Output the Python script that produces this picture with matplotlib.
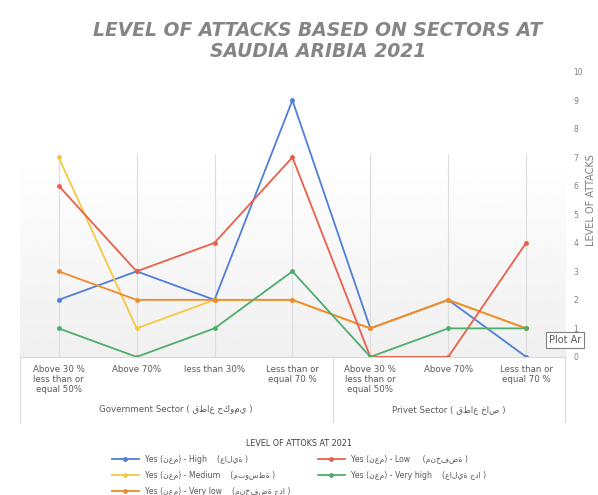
import matplotlib.pyplot as plt
import numpy as np

categories = ["Above 30 %\nless than or\nequal 50%", "Above 70%", "less than 30%",
              "Less than or\nequal 70 %",
              "Above 30 %\nless than or\nequal 50%", "Above 70%", "Less than or\nequal 70 %"]
groups = ["Government Sector ( قطاع حكومي )", "Privet Sector ( قطاع خاص )"]

high = [2, 3, 2, 9, 1, 2, 0]
low = [6, 3, 4, 7, 0, 0, 4]
medium = [7, 1, 2, 2, 1, 2, 1]
very_high = [1, 0, 1, 3, 0, 1, 1]
very_low = [3, 2, 2, 2, 1, 2, 1]

series = [
    ("Yes (نعم) - High    (عالية )", high, "#4f7fd6"),
    ("Yes (نعم) - Medium    (متوسطة )", medium, "#f5c842"),
    ("Yes (نعم) - Very low    (منخفضة جدا )", very_low, "#f08a2c"),
    ("Yes (نعم) - Low     (منخفضة )", low, "#e8604c"),
    ("Yes (نعم) - Very high    (عالية جدا )", very_high, "#4fae6b"),
]

plt.rcParams['font.family'] = ['DejaVu Sans']
fig = plt.figure(figsize=(5.98, 4.95), dpi=100)
ax = fig.add_axes([0.033, 0.279, 0.912, 0.576])

x = np.arange(len(categories))
grad = np.linspace(0.94, 1.0, 100).reshape(-1, 1)
ax.imshow(grad, extent=[-0.5, 6.5, 0, 7.1], aspect='auto', cmap='gray',
          vmin=0, vmax=1, origin='lower', zorder=0)
for xi in x:
    ax.axvline(xi, ymax=0.71, color='#dddddd', lw=0.8, zorder=1)

lines = []
for label, vals, color in series:
    ln, = ax.plot(x, vals, color=color, lw=1.3, marker='o', markersize=2.5,
                  label=label, zorder=3)
    lines.append(ln)

ax.set_xlim(-0.5, 6.5)
ax.set_ylim(0, 10)
ax.yaxis.tick_right()
ax.set_yticks(range(0, 11))
ax.tick_params(axis='y', length=0, labelsize=5.5, labelcolor='#808080', pad=6)
ax.set_xticks(x)
ax.set_xticklabels(categories, fontsize=6.2, color='#595959', linespacing=1.1)
ax.tick_params(axis='x', length=0, pad=6)
for s in ax.spines.values():
    s.set_visible(False)

# category group boxes
for xf in [20, 333, 565]:
    fig.add_artist(plt.Line2D([xf / 598, xf / 598], [1 - 357 / 495, 1 - 422 / 495],
                              color='#d9d9d9', lw=0.8))
fig.add_artist(plt.Line2D([20 / 598, 565 / 598], [1 - 357 / 495, 1 - 357 / 495],
                          color='#d9d9d9', lw=0.8))
fig.text(176 / 598, 1 - 410 / 495, groups[0], fontsize=6.2, color='#595959',
         ha='center', va='center')
fig.text(449 / 598, 1 - 410 / 495, groups[1], fontsize=6.2, color='#595959',
         ha='center', va='center')

fig.text(318 / 598, 1 - 41 / 495, "LEVEL OF ATTACKS BASED ON SECTORS AT\nSAUDIA ARIBIA 2021",
         fontsize=13.5, fontweight='bold', fontstyle='italic', color='#858585',
         ha='center', va='center', linespacing=1.1)

fig.text(591 / 598, 1 - 200 / 495, "LEVEL OF ATTACKS", rotation=90, fontsize=7,
         color='#7f7f7f', ha='center', va='center')
fig.text(549 / 598, 1 - 340 / 495, "Plot Ar", fontsize=7, color='#595959',
         ha='left', va='center',
         bbox=dict(boxstyle='square,pad=0.3', fc='white', ec='#808080', lw=0.8))

leg = fig.legend(handles=lines, loc='upper center', bbox_to_anchor=(0.5, 1 - 432 / 495),
                 ncol=2, frameon=False, fontsize=5.6, title="LEVEL OF ATTOKS AT 2021",
                 title_fontsize=5.8, handlelength=3.5, columnspacing=3.5,
                 labelspacing=0.9)
for t in leg.get_texts():
    t.set_color('#595959')
leg.get_title().set_color('#404040')

fig.savefig("out.png", dpi=100)
